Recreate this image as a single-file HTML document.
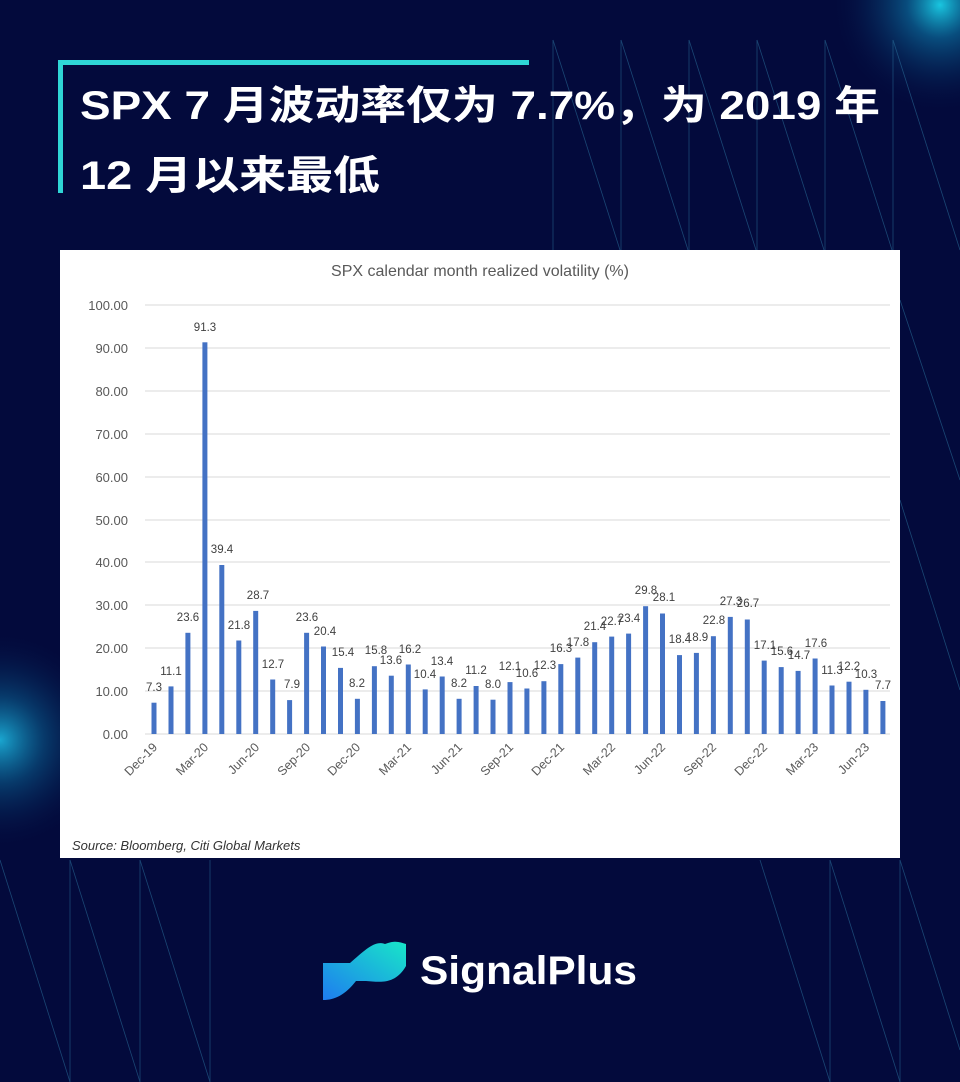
<!DOCTYPE html>
<html><head><meta charset="utf-8"><style>
html,body{margin:0;padding:0;background:#030a3c;}
svg{display:block}
</style></head><body>
<svg width="960" height="1082" viewBox="0 0 960 1082" xmlns="http://www.w3.org/2000/svg">
<defs>
<radialGradient id="g1" cx="940" cy="5" r="110" gradientUnits="userSpaceOnUse"><stop offset="0" stop-color="#19c6e0"/><stop offset="0.3" stop-color="#0b6a9a" stop-opacity="0.7"/><stop offset="1" stop-color="#030a3c" stop-opacity="0"/></radialGradient>
<radialGradient id="g2" cx="0" cy="740" r="110" gradientUnits="userSpaceOnUse"><stop offset="0" stop-color="#1aa6d0"/><stop offset="0.4" stop-color="#0a5a8a" stop-opacity="0.6"/><stop offset="1" stop-color="#030a3c" stop-opacity="0"/></radialGradient>
<linearGradient id="lg" x1="0" y1="1" x2="1" y2="0"><stop offset="0" stop-color="#1e7cf0"/><stop offset="1" stop-color="#18e6c8"/></linearGradient>
</defs>
<rect width="960" height="1082" fill="#030a3c"/>
<rect width="960" height="1082" fill="url(#g1)"/>
<rect width="960" height="1082" fill="url(#g2)"/>
<g stroke="#2a6f9a" stroke-width="0.8" opacity="0.6" fill="none">
<line x1="553" y1="40" x2="553" y2="250"/><line x1="553" y1="40" x2="620" y2="250"/>
<line x1="621" y1="40" x2="621" y2="250"/><line x1="621" y1="40" x2="688" y2="250"/>
<line x1="689" y1="40" x2="689" y2="250"/><line x1="689" y1="40" x2="756" y2="250"/>
<line x1="757" y1="40" x2="757" y2="250"/><line x1="757" y1="40" x2="824" y2="250"/>
<line x1="825" y1="40" x2="825" y2="250"/><line x1="825" y1="40" x2="892" y2="250"/>
<line x1="893" y1="40" x2="893" y2="250"/><line x1="893" y1="40" x2="960" y2="250"/>
<line x1="900" y1="300" x2="960" y2="480"/><line x1="900" y1="500" x2="960" y2="690"/>
<line x1="0" y1="860" x2="70" y2="1082"/><line x1="70" y1="860" x2="140" y2="1082"/>
<line x1="140" y1="860" x2="210" y2="1082"/><line x1="70" y1="860" x2="70" y2="1082"/>
<line x1="140" y1="860" x2="140" y2="1082"/><line x1="210" y1="860" x2="210" y2="1082"/>
<line x1="760" y1="860" x2="830" y2="1082"/><line x1="830" y1="860" x2="900" y2="1082"/>
<line x1="900" y1="860" x2="960" y2="1050"/><line x1="830" y1="860" x2="830" y2="1082"/><line x1="900" y1="860" x2="900" y2="1082"/>
</g>
<rect x="58" y="60" width="471" height="5" fill="#2fd6d6"/>
<rect x="58" y="60" width="5" height="133" fill="#2fd6d6"/>
<g font-family="'Liberation Sans','Noto Sans CJK SC',sans-serif" font-weight="bold" font-size="40" fill="#fff">
<text x="80" y="119" textLength="800" lengthAdjust="spacingAndGlyphs">SPX 7 月波动率仅为 7.7%，为 2019 年</text>
<text x="80" y="189" textLength="300" lengthAdjust="spacingAndGlyphs">12 月以来最低</text>
</g>
<rect x="60" y="250" width="840" height="608" fill="#fff"/>
<text x="480" y="276" text-anchor="middle" font-family="'Liberation Sans',sans-serif" font-size="16" fill="#595959">SPX calendar month realized volatility (%)</text>
<g stroke="#d9d9d9" stroke-width="1">
<line x1="145" y1="305" x2="890" y2="305"/><line x1="145" y1="348" x2="890" y2="348"/><line x1="145" y1="391" x2="890" y2="391"/><line x1="145" y1="434" x2="890" y2="434"/><line x1="145" y1="477" x2="890" y2="477"/><line x1="145" y1="520" x2="890" y2="520"/><line x1="145" y1="562" x2="890" y2="562"/><line x1="145" y1="605" x2="890" y2="605"/><line x1="145" y1="648" x2="890" y2="648"/><line x1="145" y1="691" x2="890" y2="691"/><line x1="145" y1="734" x2="890" y2="734"/>
</g>
<g font-family="'Liberation Sans',sans-serif" font-size="13" fill="#595959" text-anchor="end">
<text x="128" y="310">100.00</text><text x="128" y="353">90.00</text><text x="128" y="396">80.00</text><text x="128" y="439">70.00</text><text x="128" y="482">60.00</text><text x="128" y="525">50.00</text><text x="128" y="567">40.00</text><text x="128" y="610">30.00</text><text x="128" y="653">20.00</text><text x="128" y="696">10.00</text><text x="128" y="739">0.00</text>
</g>
<g fill="#4472c4">
<rect x="151.5" y="702.7" width="5" height="31.3"/><rect x="168.5" y="686.4" width="5" height="47.6"/><rect x="185.4" y="632.8" width="5" height="101.2"/><rect x="202.4" y="342.3" width="5" height="391.7"/><rect x="219.3" y="565" width="5" height="169"/><rect x="236.3" y="640.5" width="5" height="93.5"/><rect x="253.2" y="610.9" width="5" height="123.1"/><rect x="270.2" y="679.5" width="5" height="54.5"/><rect x="287.1" y="700.1" width="5" height="33.9"/><rect x="304.1" y="632.8" width="5" height="101.2"/><rect x="321" y="646.5" width="5" height="87.5"/><rect x="338" y="667.9" width="5" height="66.1"/><rect x="354.9" y="698.8" width="5" height="35.2"/><rect x="371.9" y="666.2" width="5" height="67.8"/><rect x="388.8" y="675.7" width="5" height="58.3"/><rect x="405.8" y="664.5" width="5" height="69.5"/><rect x="422.7" y="689.4" width="5" height="44.6"/><rect x="439.7" y="676.5" width="5" height="57.5"/><rect x="456.6" y="698.8" width="5" height="35.2"/><rect x="473.6" y="686" width="5" height="48"/><rect x="490.5" y="699.7" width="5" height="34.3"/><rect x="507.5" y="682.1" width="5" height="51.9"/><rect x="524.4" y="688.5" width="5" height="45.5"/><rect x="541.4" y="681.2" width="5" height="52.8"/><rect x="558.3" y="664.1" width="5" height="69.9"/><rect x="575.3" y="657.6" width="5" height="76.4"/><rect x="592.2" y="642.2" width="5" height="91.8"/><rect x="609.2" y="636.6" width="5" height="97.4"/><rect x="626.1" y="633.6" width="5" height="100.4"/><rect x="643.1" y="606.2" width="5" height="127.8"/><rect x="660" y="613.5" width="5" height="120.5"/><rect x="677" y="655.1" width="5" height="78.9"/><rect x="693.9" y="652.9" width="5" height="81.1"/><rect x="710.9" y="636.2" width="5" height="97.8"/><rect x="727.8" y="616.9" width="5" height="117.1"/><rect x="744.8" y="619.5" width="5" height="114.5"/><rect x="761.7" y="660.6" width="5" height="73.4"/><rect x="778.7" y="667.1" width="5" height="66.9"/><rect x="795.6" y="670.9" width="5" height="63.1"/><rect x="812.6" y="658.5" width="5" height="75.5"/><rect x="829.5" y="685.5" width="5" height="48.5"/><rect x="846.5" y="681.7" width="5" height="52.3"/><rect x="863.4" y="689.8" width="5" height="44.2"/><rect x="880.4" y="701" width="5" height="33"/>
</g>
<g font-family="'Liberation Sans',sans-serif" font-size="11.5" fill="#404040" text-anchor="middle">
<text x="154" y="691">7.3</text><text x="171" y="675">11.1</text><text x="188" y="621">23.6</text><text x="205" y="331">91.3</text><text x="222" y="553">39.4</text><text x="239" y="629">21.8</text><text x="258" y="599">28.7</text><text x="273" y="668">12.7</text><text x="292" y="688">7.9</text><text x="307" y="621">23.6</text><text x="325" y="635">20.4</text><text x="343" y="656">15.4</text><text x="357" y="687">8.2</text><text x="376" y="654">15.8</text><text x="391" y="664">13.6</text><text x="410" y="653">16.2</text><text x="425" y="678">10.4</text><text x="442" y="665">13.4</text><text x="459" y="687">8.2</text><text x="476" y="674">11.2</text><text x="493" y="688">8.0</text><text x="510" y="670">12.1</text><text x="527" y="677">10.6</text><text x="545" y="669">12.3</text><text x="561" y="652">16.3</text><text x="578" y="646">17.8</text><text x="595" y="630">21.4</text><text x="612" y="625">22.7</text><text x="629" y="622">23.4</text><text x="646" y="594">29.8</text><text x="664" y="601">28.1</text><text x="680" y="643">18.4</text><text x="697" y="641">18.9</text><text x="714" y="624">22.8</text><text x="731" y="605">27.3</text><text x="748" y="607">26.7</text><text x="765" y="649">17.1</text><text x="782" y="655">15.6</text><text x="799" y="659">14.7</text><text x="816" y="647">17.6</text><text x="832" y="674">11.3</text><text x="849" y="670">12.2</text><text x="866" y="678">10.3</text><text x="883" y="689">7.7</text>
</g>
<g font-family="'Liberation Sans',sans-serif" font-size="12.5" fill="#595959" text-anchor="end">
<text transform="translate(158,748) rotate(-45)">Dec-19</text>
<text transform="translate(209,748) rotate(-45)">Mar-20</text>
<text transform="translate(260,748) rotate(-45)">Jun-20</text>
<text transform="translate(311,748) rotate(-45)">Sep-20</text>
<text transform="translate(361,748) rotate(-45)">Dec-20</text>
<text transform="translate(412,748) rotate(-45)">Mar-21</text>
<text transform="translate(463,748) rotate(-45)">Jun-21</text>
<text transform="translate(514,748) rotate(-45)">Sep-21</text>
<text transform="translate(565,748) rotate(-45)">Dec-21</text>
<text transform="translate(616,748) rotate(-45)">Mar-22</text>
<text transform="translate(666,748) rotate(-45)">Jun-22</text>
<text transform="translate(717,748) rotate(-45)">Sep-22</text>
<text transform="translate(768,748) rotate(-45)">Dec-22</text>
<text transform="translate(819,748) rotate(-45)">Mar-23</text>
<text transform="translate(870,748) rotate(-45)">Jun-23</text>
</g>
<text x="72" y="850" font-family="'Liberation Sans',sans-serif" font-style="italic" font-size="13" fill="#333">Source: Bloomberg, Citi Global Markets</text>
<path d="M323 963 L350 963 C365 950 375 940 385 944 C395 940 400 942 406 944 L406 966 C395 985 380 982 366 981 L356 981 C345 995 335 1000 323 1000 Z" fill="url(#lg)"/>
<text x="420" y="984" font-family="'Liberation Sans',sans-serif" font-weight="bold" font-size="40" fill="#fff" textLength="217" lengthAdjust="spacingAndGlyphs">SignalPlus</text>
</svg>
</body></html>
